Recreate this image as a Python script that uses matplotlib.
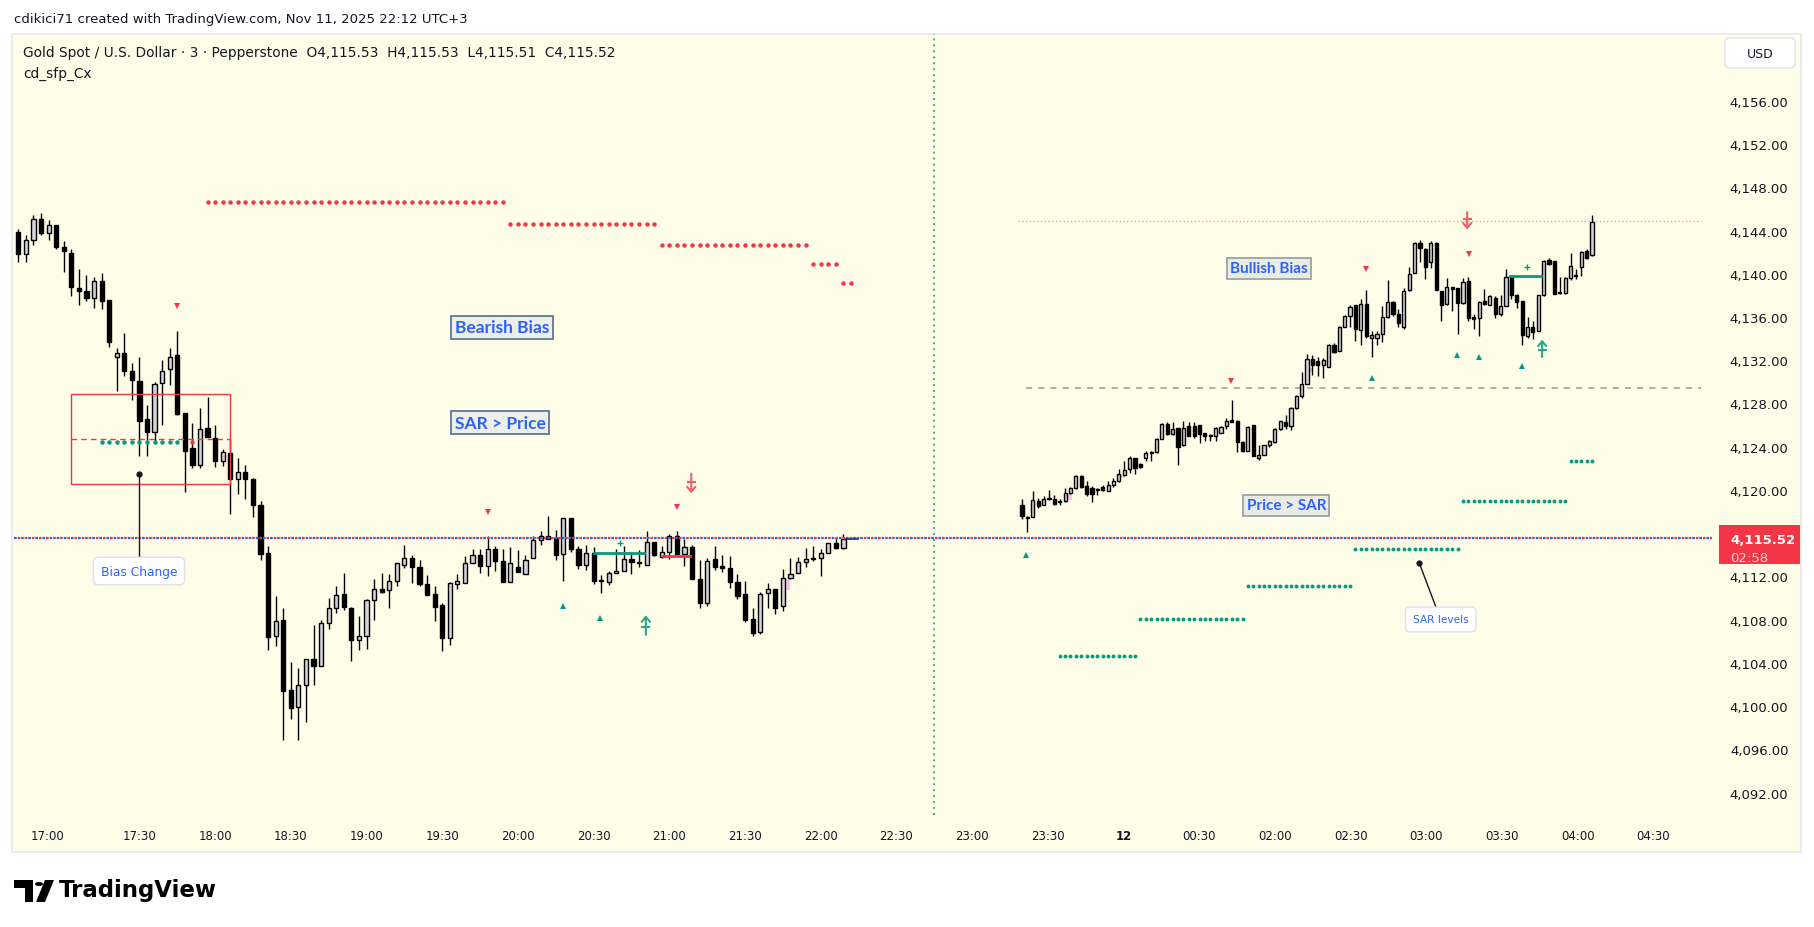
import numpy as np
import matplotlib.pyplot as plt
from matplotlib.patches import Rectangle, Circle, Polygon, FancyBboxPatch

W, H = 1814, 928
BG = '#fefee8'
RED = '#f23645'
GREEN = '#089981'
BLUE = '#2962ff'
INK = '#131722'

# ---- left session, 3 minute bars (first bar 16:42) ----
left_open = [4143.9, 4141.8, 4143.1, 4145.1, 4143.8, 4144.5, 4142.5, 4141.9, 4138.7, 4138.4,
             4137.8, 4139.3, 4137.6, 4132.3, 4132.7, 4131.0, 4130.1, 4126.6, 4125.4, 4129.9,
             4131.2, 4132.5, 4127.1, 4123.9, 4122.3, 4125.7, 4124.8, 4122.7, 4123.4, 4121.0,
             4121.7, 4121.0, 4118.6, 4114.2, 4106.5, 4108.0, 4101.5, 4099.9, 4102.0, 4104.4,
             4103.7, 4107.7, 4109.1, 4110.4, 4109.1, 4106.1, 4106.5, 4109.8, 4110.8, 4110.7,
             4111.6, 4113.1, 4113.7, 4112.9, 4111.3, 4110.4, 4109.4, 4106.3, 4111.3, 4111.4,
             4113.2, 4114.0, 4113.0, 4114.5, 4113.4, 4111.5, 4112.9, 4112.2, 4113.7, 4115.4,
             4115.7, 4115.6, 4114.1, 4117.4, 4114.5, 4113.1, 4114.2, 4111.7, 4111.5, 4112.3,
             4112.5, 4113.6, 4113.3, 4113.1, 4115.2, 4113.8, 4114.3, 4115.7, 4114.1, 4114.7,
             4111.8, 4109.5, 4113.6, 4113.0, 4112.8, 4111.5, 4110.4, 4108.1, 4106.9, 4110.5,
             4110.8, 4109.3, 4111.9, 4112.3, 4113.3, 4113.6, 4113.7, 4114.2, 4115.1, 4114.6]
left_high = [4144.1, 4143.6, 4145.4, 4145.6, 4145.0, 4144.5, 4143.0, 4142.3, 4140.4, 4139.9,
             4139.7, 4140.1, 4137.6, 4133.1, 4134.5, 4131.7, 4132.3, 4127.9, 4130.0, 4132.0,
             4133.1, 4134.7, 4127.1, 4126.2, 4127.6, 4128.6, 4126.0, 4123.8, 4124.7, 4123.0,
             4122.3, 4121.1, 4119.0, 4114.8, 4110.2, 4109.1, 4104.1, 4103.5, 4104.4, 4107.5,
             4108.0, 4110.0, 4111.1, 4112.3, 4109.2, 4108.3, 4109.9, 4111.8, 4112.3, 4112.2,
             4113.2, 4114.9, 4114.0, 4113.5, 4112.1, 4111.1, 4109.5, 4111.5, 4112.2, 4113.9,
             4114.5, 4114.5, 4115.7, 4114.8, 4114.5, 4114.7, 4114.4, 4114.0, 4115.7, 4116.2,
             4117.6, 4116.3, 4117.4, 4117.4, 4114.8, 4114.9, 4114.7, 4112.1, 4112.5, 4114.5,
             4114.8, 4114.3, 4114.4, 4116.2, 4115.2, 4114.8, 4115.9, 4116.2, 4115.5, 4114.9,
             4113.5, 4113.7, 4114.8, 4114.0, 4113.9, 4112.2, 4111.6, 4109.1, 4110.6, 4111.4,
             4110.8, 4112.7, 4113.7, 4113.8, 4114.6, 4114.8, 4114.5, 4115.1, 4115.6, 4115.9]
left_low = [4141.1, 4141.1, 4142.7, 4143.6, 4143.1, 4142.3, 4140.2, 4137.9, 4137.1, 4137.5,
            4136.8, 4136.7, 4133.2, 4129.2, 4130.5, 4128.3, 4123.1, 4123.1, 4124.4, 4126.0,
            4129.7, 4126.9, 4119.8, 4122.0, 4122.0, 4124.9, 4122.1, 4122.2, 4117.8, 4119.6,
            4119.2, 4117.5, 4113.5, 4105.2, 4105.6, 4096.9, 4098.8, 4096.9, 4098.5, 4102.0,
            4103.7, 4107.1, 4108.6, 4108.9, 4104.2, 4105.2, 4105.3, 4108.0, 4110.5, 4109.1,
            4111.1, 4112.8, 4111.4, 4111.1, 4110.3, 4107.9, 4105.1, 4105.7, 4110.8, 4111.4,
            4113.2, 4112.3, 4112.0, 4112.5, 4111.5, 4111.5, 4112.4, 4112.2, 4113.7, 4114.9,
            4115.5, 4113.5, 4111.6, 4114.3, 4112.7, 4112.6, 4111.3, 4110.5, 4111.2, 4112.3,
            4112.5, 4112.2, 4112.9, 4113.1, 4113.9, 4113.7, 4113.6, 4114.1, 4113.0, 4111.8,
            4109.1, 4109.3, 4112.6, 4112.4, 4110.9, 4109.9, 4107.8, 4106.5, 4106.7, 4109.1,
            4108.5, 4108.8, 4111.8, 4112.3, 4112.9, 4113.4, 4112.0, 4114.2, 4114.5, 4114.5]
left_close = [4141.8, 4143.1, 4145.1, 4143.8, 4144.5, 4142.5, 4142.1, 4138.8, 4138.4, 4137.8,
              4139.3, 4137.5, 4133.7, 4132.7, 4131.0, 4130.2, 4126.4, 4125.4, 4129.8, 4131.0,
              4132.3, 4127.0, 4123.6, 4122.3, 4125.6, 4124.9, 4122.7, 4123.5, 4121.0, 4121.7,
              4121.0, 4118.6, 4114.1, 4106.4, 4107.9, 4101.4, 4099.8, 4102.0, 4104.4, 4103.7,
              4107.7, 4109.1, 4110.3, 4109.2, 4106.1, 4106.5, 4109.8, 4110.8, 4110.6, 4111.6,
              4113.2, 4113.7, 4112.9, 4111.3, 4110.3, 4109.2, 4106.3, 4111.4, 4111.6, 4113.2,
              4114.0, 4113.0, 4114.5, 4113.4, 4111.5, 4113.2, 4112.4, 4113.5, 4115.4, 4115.7,
              4115.5, 4114.0, 4117.4, 4114.5, 4113.1, 4114.2, 4111.6, 4111.6, 4112.3, 4112.5,
              4113.6, 4113.3, 4113.2, 4115.2, 4114.0, 4114.3, 4115.7, 4114.1, 4114.7, 4111.8,
              4109.5, 4113.4, 4112.9, 4112.8, 4111.5, 4110.2, 4108.0, 4106.8, 4110.4, 4110.8,
              4109.1, 4111.9, 4112.2, 4113.3, 4113.6, 4113.7, 4114.2, 4115.1, 4114.6, 4115.5]

# ---- right part (pasted chart, narrower bars) ----
right_open = [4118.6, 4117.5, 4117.5, 4119.0, 4118.6, 4119.2, 4119.2, 4118.9, 4119.0, 4119.7,
              4120.2, 4121.3, 4120.4, 4120.2, 4120.1, 4120.3, 4119.9, 4120.5, 4120.8, 4121.4,
              4121.9, 4123.0, 4122.4, 4123.0, 4123.5, 4123.5, 4124.7, 4126.1, 4125.2, 4125.7,
              4124.2, 4125.9, 4125.9, 4126.0, 4125.3, 4125.1, 4125.0, 4125.3, 4125.9, 4126.5,
              4126.4, 4124.4, 4123.6, 4126.0, 4123.0, 4123.2, 4124.2, 4124.4, 4125.6, 4126.3,
              4125.9, 4127.6, 4128.7, 4129.8, 4132.1, 4131.9, 4131.6, 4131.4, 4133.4, 4132.9,
              4135.1, 4136.1, 4137.1, 4134.8, 4137.2, 4134.1, 4134.1, 4134.4, 4136.0, 4137.4,
              4136.3, 4135.1, 4138.5, 4140.1, 4142.8, 4142.3, 4141.1, 4142.8, 4138.4, 4137.2,
              4138.8, 4138.7, 4137.3, 4139.3, 4136.0, 4135.9, 4137.5, 4137.1, 4137.8, 4136.3,
              4137.0, 4139.7, 4138.0, 4137.5, 4134.2, 4135.1, 4134.7, 4138.0, 4141.3, 4141.2,
              4138.2, 4138.2, 4139.6, 4139.8, 4140.6, 4142.1, 4141.7]
right_high = [4119.2, 4117.6, 4119.9, 4119.3, 4119.4, 4120.0, 4119.5, 4119.2, 4120.2, 4120.3,
              4121.4, 4121.4, 4120.8, 4120.4, 4120.2, 4120.5, 4120.8, 4121.1, 4121.9, 4122.7,
              4123.1, 4123.0, 4122.5, 4123.6, 4123.6, 4124.8, 4126.2, 4126.3, 4126.3, 4125.7,
              4126.4, 4126.3, 4126.3, 4126.0, 4125.3, 4125.2, 4125.8, 4125.9, 4126.7, 4128.3,
              4126.5, 4124.5, 4125.9, 4126.0, 4124.2, 4124.2, 4124.6, 4125.7, 4126.4, 4126.9,
              4127.7, 4128.8, 4130.9, 4132.6, 4132.5, 4132.3, 4132.2, 4133.5, 4133.6, 4135.2,
              4136.2, 4137.1, 4137.1, 4137.7, 4138.5, 4134.7, 4134.7, 4137.0, 4139.4, 4137.5,
              4136.7, 4138.7, 4140.6, 4142.9, 4143.1, 4142.4, 4143.0, 4142.9, 4138.4, 4139.6,
              4138.8, 4138.7, 4139.6, 4139.7, 4136.3, 4137.5, 4138.6, 4138.0, 4137.9, 4138.0,
              4140.4, 4139.9, 4138.1, 4137.5, 4136.0, 4135.6, 4138.0, 4141.3, 4141.5, 4141.2,
              4139.7, 4139.7, 4141.9, 4140.4, 4142.1, 4142.3, 4145.4]
right_low = [4117.3, 4116.1, 4117.5, 4118.3, 4118.6, 4119.1, 4118.6, 4118.6, 4118.9, 4119.6,
             4120.1, 4120.2, 4119.4, 4118.9, 4119.5, 4119.9, 4119.9, 4120.3, 4120.7, 4121.3,
             4121.6, 4121.5, 4122.0, 4122.7, 4122.7, 4123.4, 4124.7, 4125.1, 4125.1, 4122.3,
             4124.1, 4125.0, 4124.8, 4124.3, 4124.5, 4124.5, 4124.5, 4125.3, 4125.6, 4126.3,
             4123.5, 4123.5, 4123.6, 4123.1, 4122.8, 4123.2, 4124.0, 4124.3, 4125.5, 4125.6,
             4125.5, 4127.5, 4128.5, 4129.8, 4130.6, 4130.5, 4130.4, 4131.4, 4132.7, 4132.9,
             4135.1, 4135.1, 4133.8, 4133.4, 4134.1, 4132.3, 4133.4, 4133.7, 4135.9, 4136.1,
             4135.1, 4134.9, 4138.4, 4140.1, 4141.1, 4139.5, 4140.5, 4138.5, 4135.6, 4137.1,
             4136.6, 4134.4, 4137.2, 4135.6, 4134.9, 4134.2, 4137.1, 4137.1, 4135.9, 4136.1,
             4137.0, 4137.7, 4136.8, 4133.4, 4134.1, 4134.0, 4134.7, 4137.9, 4140.8, 4138.1,
             4138.1, 4138.1, 4139.4, 4139.5, 4139.8, 4141.4, 4141.6]
right_close = [4117.6, 4117.4, 4119.1, 4118.5, 4119.2, 4119.3, 4118.7, 4119.0, 4119.7, 4120.2,
               4121.3, 4120.3, 4119.6, 4119.6, 4120.0, 4120.0, 4120.5, 4120.8, 4121.5, 4121.8,
               4123.0, 4122.0, 4122.1, 4123.4, 4123.4, 4124.7, 4126.1, 4125.2, 4125.6, 4124.0,
               4125.7, 4125.0, 4125.0, 4125.2, 4125.0, 4125.0, 4125.7, 4125.8, 4126.4, 4126.3,
               4124.4, 4123.6, 4125.8, 4123.1, 4123.2, 4124.2, 4124.5, 4125.6, 4126.4, 4125.9,
               4127.6, 4128.7, 4129.8, 4132.1, 4131.6, 4131.6, 4132.0, 4133.4, 4132.8, 4135.1,
               4136.1, 4136.9, 4134.9, 4137.2, 4134.2, 4134.3, 4134.4, 4136.0, 4137.4, 4136.3,
               4135.4, 4138.4, 4140.0, 4142.8, 4142.4, 4140.6, 4142.8, 4138.5, 4137.1, 4138.8,
               4138.6, 4137.3, 4139.2, 4135.9, 4135.8, 4137.4, 4137.2, 4137.9, 4136.3, 4137.0,
               4139.7, 4138.0, 4137.4, 4134.3, 4135.1, 4134.6, 4138.0, 4141.2, 4140.9, 4138.1,
               4138.2, 4139.6, 4140.7, 4139.8, 4142.0, 4141.5, 4144.8]

# SAR steps: bearish (left, red) and bullish (right, green)
bear_sar_level = [4146.6, 4144.6, 4142.7, 4140.9, 4139.1]
bear_sar_first = [25, 65, 85, 105, 109]
bear_sar_last = [64, 84, 104, 108, 110]
early_sar_level = 4124.4
bull_sar_level = [4104.6, 4108.1, 4111.1, 4114.5, 4119.0, 4122.7]
bull_sar_first = [7, 22, 42, 62, 82, 102]
bull_sar_last = [21, 41, 61, 81, 101, 106]

last_price = 4115.52
price_ticks = list(range(4092, 4157, 4))
time_labels = ['17:00', '17:30', '18:00', '18:30', '19:00', '19:30', '20:00', '20:30', '21:00',
               '21:30', '22:00', '22:30', '23:00', '23:30', '12', '00:30', '02:00', '02:30',
               '03:00', '03:30', '04:00', '04:30']
time_pos = [3.9] + list(range(16, 217, 10))

# right chart placement in bar units
R_START, R_STEP = 132.6, 0.7103

fig = plt.figure(figsize=(W / 100, H / 100), dpi=100)
fig.patch.set_facecolor('white')
panel = Rectangle((12 / W, 1 - 853 / H), 1789 / W, 818 / H, transform=fig.transFigure,
                  facecolor=BG, edgecolor='#e6e8ee', lw=1.2, zorder=-10)
fig.patches.append(panel)
ax = fig.add_axes([14 / W, 1 - 816 / H, 1698 / W, 781 / H])
ax.set_zorder(1)
ax.set_facecolor('none')
for s in ax.spines.values():
    s.set_visible(False)
ax.set_xlim(-0.57, 223.74)
ax.set_ylim(4089.93, 4162.18)


def candles(x, o, h, l, c, width):
    o, h, l, c = map(np.asarray, (o, h, l, c))
    ax.vlines(x, l, h, color='black', lw=1.0, zorder=3)
    up = c > o
    bottom = np.minimum(o, c)
    height = np.maximum(np.abs(c - o), 0.08)
    ax.bar(x[up], height[up], width, bottom[up], color='#d1d4dc', edgecolor='black', lw=1.0, zorder=4)
    ax.bar(x[~up], height[~up], width, bottom[~up], color='black', edgecolor='black', lw=1.0, zorder=4)


lx = np.arange(len(left_open))
rx = R_START + R_STEP * np.arange(len(right_open))
candles(lx, left_open, left_high, left_low, left_close, 0.55)
candles(rx, right_open, right_high, right_low, right_close, 0.42)

# small pink highlight cells
pink_x = [101.6, 138.9, 145.8, 170.7]
pink_lo = [4110.7, 4119.1, 4121.1, 4130.9]
pink_hi = [4111.8, 4119.6, 4121.4, 4131.25]
for px, lo, hi in zip(pink_x, pink_lo, pink_hi):
    ax.add_patch(Rectangle((px - 0.3, lo), 0.6, hi - lo, facecolor='#f6c4e8', edgecolor='none', zorder=2))

# SAR dots
for lev, a, b in zip(bear_sar_level, bear_sar_first, bear_sar_last):
    xs = np.arange(a, b + 1)
    ax.plot(xs, [lev] * len(xs), 'o', color=RED, ms=3.2, mew=0, zorder=5)
xs = np.arange(11, 22)
ax.plot(xs, [early_sar_level] * len(xs), 'o', color=GREEN, ms=3.2, mew=0, zorder=5)
ax.plot([23], [early_sar_level], 'o', color=RED, ms=3.2, mew=0, zorder=5)
for lev, a, b in zip(bull_sar_level, bull_sar_first, bull_sar_last):
    xs = R_START + R_STEP * np.arange(a, b + 1)
    ax.plot(xs, [lev] * len(xs), 'o', color=GREEN, ms=2.8, mew=0, zorder=5)

# last price line (red/blue dotted)
ax.axhline(last_price, color='#2962ff', lw=1.6, ls=(0, (1.2, 2.0)), zorder=6)
ax.axhline(last_price, color=RED, lw=1.6, ls=(1.6, (1.2, 2.0)), zorder=6)
# session separator
ax.axvline(121, color=GREEN, lw=1.1, ls=(0, (1.3, 2.6)), zorder=1)

# red zone box around the bias change
ax.add_patch(Rectangle((7.0, 4120.52), 21.0, 8.33, fill=False, edgecolor=RED, lw=1.0, zorder=6))
ax.plot([7.0, 28.0], [4124.71, 4124.71], color=RED, lw=1.0, ls=(0, (4, 3)), zorder=6)

# right reference lines
ax.plot([132.1, 222.3], [4144.85, 4144.85], color='#f48a93', lw=0.9, ls=(0, (1, 2)), zorder=2)
ax.plot([133.1, 222.3], [4129.4, 4129.4], color='#9598a1', lw=1.1, ls=(0, (4, 4)), zorder=2)

# sfp levels
ax.plot([76.0, 82.7], [4114.17, 4114.17], color=GREEN, lw=2.0, zorder=5)
ax.plot([85.2, 88.7], [4113.92, 4113.92], color=RED, lw=2.0, zorder=5)
ax.plot([197.1, 201.2], [4139.82, 4139.82], color=GREEN, lw=2.0, zorder=5)
ax.plot([79.5, 199.3], [4115.1, 4140.6], '+', color=GREEN, ms=5, mew=1.0, zorder=5)
ax.plot([109.4, 110.9], [4115.5, 4115.5], color='#1c2a8c', lw=1.2, zorder=7)

# triangles
ax.plot([21, 62, 87, 160.2, 178.0, 191.6], [4137.0, 4118.0, 4118.45, 4130.1, 4140.45, 4141.85],
        'v', color=RED, ms=5, mew=0, zorder=6)
ax.plot([71.9, 76.8, 133.1, 178.8, 190.1, 192.9, 198.7],
        [4109.25, 4108.2, 4114.0, 4130.35, 4132.5, 4132.3, 4131.5],
        '^', color=GREEN, ms=5, mew=0, zorder=6)


def stroke_arrow(x, y_from, y_to, color):
    ax.annotate('', xy=(x, y_to), xytext=(x, y_from),
                arrowprops=dict(arrowstyle='->,head_width=0.3,head_length=0.35', color=color, lw=1.5,
                                shrinkA=0, shrinkB=0),
                zorder=7)
    bar_y = y_from + (y_to - y_from) * 0.4
    ax.plot([x - 0.45, x + 0.45], [bar_y, bar_y], color=color, lw=1.5, zorder=7)


stroke_arrow(88.9, 4121.5, 4119.7, '#f25c68')
stroke_arrow(82.9, 4106.6, 4108.4, '#2aa888')
stroke_arrow(191.4, 4145.7, 4144.1, '#f25c68')
stroke_arrow(201.3, 4132.3, 4133.9, '#2aa888')

# text boxes
box_l = dict(boxstyle='square,pad=0.22', facecolor='#eeefe8', edgecolor='#5f7896', lw=1.3)
box_r = dict(boxstyle='square,pad=0.22', facecolor='#eaebe4', edgecolor='#9ba3ab', lw=1.3)
ax.text(63.96, 4135.03, 'Bearish Bias', color=BLUE, fontsize=12.5, family='Lato',
        fontweight='bold', ha='center', va='center', bbox=box_l, zorder=8)
ax.text(63.63, 4126.24, 'SAR > Price', color=BLUE, fontsize=12.5, family='Lato',
        fontweight='bold', ha='center', va='center', bbox=box_l, zorder=8)
ax.text(165.2, 4140.51, 'Bullish Bias', color=BLUE, fontsize=11, family='Lato',
        fontweight='bold', ha='center', va='center', bbox=box_r, zorder=8)
ax.text(167.5, 4118.57, 'Price > SAR', color=BLUE, fontsize=11, family='Lato',
        fontweight='bold', ha='center', va='center', bbox=box_r, zorder=8)

# callouts
ax.plot([16.0, 16.0], [4121.48, 4112.5], color='#131722', lw=1.0, zorder=7)
ax.plot([16.0], [4121.48], 'o', color='#131722', ms=3.5, zorder=7)
ax.text(15.94, 4112.5, 'Bias Change', color=BLUE, fontsize=8.8, ha='center', va='center', zorder=8,
        bbox=dict(boxstyle='round,pad=0.6,rounding_size=0.4', facecolor='white', edgecolor='#dde0e8', lw=1))
ax.plot([185.07, 187.9], [4113.24, 4108.0], color='#131722', lw=1.0, zorder=7)
ax.plot([185.07], [4113.24], 'o', color='#131722', ms=3.5, zorder=7)
ax.text(187.9, 4108.02, 'SAR levels', color=BLUE, fontsize=7.6, ha='center', va='center', zorder=8,
        bbox=dict(boxstyle='round,pad=0.7,rounding_size=0.4', facecolor='white', edgecolor='#dde0e8', lw=1))

# axes ticks
ax.yaxis.tick_right()
ax.set_yticks(price_ticks)
ax.set_yticklabels([f'{p:,.2f}' for p in price_ticks])
ax.tick_params(axis='y', length=0, pad=55, labelsize=9.5, labelcolor=INK)
for t in ax.get_yticklabels():
    t.set_ha('right')
ax.set_xticks(time_pos)
ax.set_xticklabels(time_labels)
ax.tick_params(axis='x', length=0, pad=10, labelsize=8.5, labelcolor=INK)
for t in ax.get_xticklabels():
    if t.get_text() == '12':
        t.set_fontweight('bold')

# last price tag (covers the 4,116.00 label as in the original)
ax.add_patch(Rectangle((1.004, last_price - 2.4), 0.048, 3.6, transform=ax.get_yaxis_transform(),
                       facecolor=RED, edgecolor='none', clip_on=False, zorder=9))
fig.text(1730 / W, 1 - 541 / H, f'{last_price:,.2f}', color='white', fontsize=9.5,
         fontweight='bold', va='center', zorder=10)
fig.text(1730 / W, 1 - 558 / H, '02:58', color='#ffd6da', fontsize=9.5, va='center', zorder=10)

# USD button
fig.patches.append(FancyBboxPatch((1725 / W, 1 - 69 / H), 70 / W, 30 / H, transform=fig.transFigure,
                                  boxstyle='round,pad=0,rounding_size=0.004', facecolor='white',
                                  edgecolor='#e0e3eb', lw=1, zorder=2))
fig.text(1760 / W, 1 - 54 / H, 'USD', color=INK, fontsize=9, ha='center', va='center', zorder=3)

# headers
fig.text(14 / W, 1 - 19 / H, 'cdikici71 created with TradingView.com, Nov 11, 2025 22:12 UTC+3',
         color=INK, fontsize=9.5, va='center')
fig.text(23 / W, 1 - 53 / H,
         'Gold Spot / U.S. Dollar \u00b7 3 \u00b7 Pepperstone  O4,115.53  H4,115.53  L4,115.51  C4,115.52',
         color=INK, fontsize=9.9, va='center')
fig.text(23 / W, 1 - 74 / H, 'cd_sfp_Cx', color=INK, fontsize=9.9, va='center')


# TradingView logo
def fp(x, y):
    return (x / W, 1 - y / H)


fig.patches.append(Polygon([fp(14, 881), fp(33, 881), fp(33, 903), fp(25, 903), fp(25, 889), fp(14, 889)],
                           closed=True, transform=fig.transFigure, facecolor='black', edgecolor='none'))
fig.patches.append(Circle(fp(39, 885), 4 / W, transform=fig.transFigure, facecolor='black'))
fig.patches.append(Polygon([fp(36, 903), fp(45, 881), fp(54, 881), fp(45, 903)], closed=True,
                           transform=fig.transFigure, facecolor='black', edgecolor='none'))
fig.text(59 / W, 1 - 891 / H, 'TradingView', color='black', fontsize=16.5, fontweight='bold', va='center')

fig.savefig('out.png', dpi=100, facecolor='white')
